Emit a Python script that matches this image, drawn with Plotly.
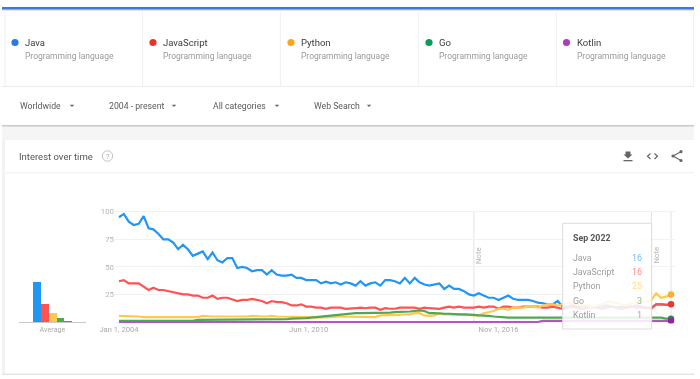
import plotly.graph_objects as go
import pandas as pd

W, H = 700, 379
# ---- data -------------------------------------------------------------
months = [d.strftime("%Y-%m-%d") for d in pd.date_range("2004-01-01", "2022-09-01", freq="2MS")]

java = [95,98,91,88,89,96,85,84,80,75,75,72,66,70,66,60,62,64,57,63,56,54,58,58,49,
        50,49,46,47,47,43,47,43,42,42,43,40,40,38,38,38,35,36.5,35,36,34,36,35,33,37,
        33,35,36,33,38,38,37,35,40,35,40,36,34,33,34,35,30,33,30,30,28,25,24,26,24,
        22,22,20,22,24,21,20,20,20,19,17.5,17,16,16,19,14,14,15,14,15,14,13,14,14,15,
        14,13,14,15,14,15,14,13,13,16,16,15.5,16]
javascript = [37,38,35,35,35,32,29,31,29,29,28,27,26,25,25,24,24,22,22,24,21,22,22,20.5,19,
              20,20,21,20,19,17,19,18,18,17,15,15,16,14,14,13,13,12,13,13,13,12,12,12.5,13,
              12.5,13,13,11,12.5,12,12,13,13,12.5,13,12,13,12.5,12,12,13,14,13,14,13,13,13,
              14,13,14,14,12,14,14,13,13,14,14,14,14,13,13,14,13,12,13,14,13,12,13,14,13,12,
              13,14,13,12,13,14,13,13,13,12,16,16,15.5,16]
python = [5.5,5.5,5.5,5.5,5,4.5,4.5,5,5,5,5,5,5,5,5,4.5,4.5,5.5,5,5,5,5,5,5,5,
          4.7,5,5.5,5,5,5,5.5,5,5,5,4.7,4.7,4.7,4.5,4.5,4,4,4.5,4.5,5,5,5,5,5,5,
          5,4.5,4.5,6,6,6,6.5,6.5,7,7,8,8,6,5.5,6,8,7,7,7,7,7,6.5,6,6,8,9,10,
          12,12,11,13,13,13,14,14,13,15,16,16,15,16,17,17,16,15,15,14,15,16,18,
          18,17,16,15,17,18,19,18,20,26,22,23,25]
go_lang = [1,1,1,1,1,1,1,1,1,1,1,1,1,1,1,1,2,2,2,2,2,2,2,2,2,
           2,2,2,2,2,2,2,2,2,2.5,3,3,3.5,3.5,4,4.5,5,5,5.5,6,7,7.5,8,8,8,
           8,8,8,8,8.5,8.5,9,9,9,9.5,10,10.5,10,8,8,7.5,7.5,7.5,7,7,7,7,6.5,6,6,
           5.5,5,4.5,4,4,4,4,4,4,4,4,4,4,4,4,4,4,4,4,4,4,4,4,4,4,
           4,4,4,4,4,4,4,4,4,4,4,3,3]
kotlin = [0]*86 + [1]*27
latest = [16, 16, 25, 3, 1]
avg_names = ["Java", "JavaScript", "Python", "Go", "Kotlin"]
avg_values = [36.6, 16.3, 8.4, 3.4, 0.3]
series = [("Java", java), ("JavaScript", javascript), ("Python", python), ("Go", go_lang), ("Kotlin", kotlin)]
line_colors = ["#2196f3", "#ff5252", "#ffc94f", "#4fa853", "#b455c4"]
dot_colors = ["#2979ea", "#e5352b", "#fba61f", "#0b9d58", "#a93fb8"]
soft_colors = ["#74bcf7", "#ff8a8a", "#ffdc8e", "#86c488", "#c78fd2"]
subtitle = "Programming language"
filters = ["Worldwide", "2004 - present", "All categories", "Web Search"]
x_ticks = ["2004-01-01", "2010-06-01", "2016-11-01"]
x_labels = ["Jan 1, 2004", "Jun 1, 2010", "Nov 1, 2016"]
notes = ["2016-01-01", "2022-01-01"]
FONT = "Roboto"

# ---- layout helpers (pixels -> paper) ----------------------------------
fx = lambda x: x / W
fy = lambda y: 1 - y / H
shapes, annos = [], []
def rect(x0, y0, x1, y1, fill, line=None, layer="below", opacity=1):
    shapes.append(dict(type="rect", xref="paper", yref="paper", x0=fx(x0), x1=fx(x1), y0=fy(y0), y1=fy(y1),
                       fillcolor=fill, line=dict(color=line or fill, width=1 if line else 0), layer=layer, opacity=opacity))
def circle(cx, cy, r, fill, line=None, lw=0):
    shapes.append(dict(type="circle", xref="paper", yref="paper", x0=fx(cx-r), x1=fx(cx+r), y0=fy(cy+r), y1=fy(cy-r),
                       fillcolor=fill, line=dict(color=line or fill, width=lw), layer="above"))
def poly(pts, fill=None, stroke=None, lw=1.5, close=False):
    d = "M" + " L".join(f"{fx(x):.5f},{fy(y):.5f}" for x, y in pts) + (" Z" if close else "")
    shapes.append(dict(type="path", xref="paper", yref="paper", path=d, fillcolor=fill or "rgba(0,0,0,0)",
                       line=dict(color=stroke or "rgba(0,0,0,0)", width=lw if stroke else 0), layer="above"))
def text(x, y, s, size=9, color="#555", anchor="left", **kw):
    shift = {"left": -1.2, "right": 1.2, "center": 0}[anchor]
    annos.append(dict(xref="paper", yref="paper", x=fx(x + shift), y=fy(y), text=s, showarrow=False, xanchor=anchor, yanchor="middle",
                      font=dict(family=FONT, size=size, color=color), borderpad=0, **kw))

# page furniture
rect(2, 126, 694, 140, "#f5f5f5")
rect(2, 140, 5, 374, "#f2f2f2")
rect(2, 373.5, 694, 375, "#e6e6e6")
rect(2, 172, 694, 173.5, "#f3f3f3")
rect(2, 125, 694, 126.5, "#c9c9c9")
rect(2, 86, 694, 87, "#ececec")
rect(2, 9.5, 694, 10.5, "#c8c8c8")
rect(2, 7, 694, 9.5, "#3b78e7")
for xd in [5, 142.7, 280.3, 418.3, 556.3, 693.7]:
    rect(xd-.4, 10, xd+.4, 86, "#ececec")

for i, (name, _) in enumerate(series):
    cx = [15, 153, 291, 429, 566.5][i]
    circle(cx, 42.5, 3.6, dot_colors[i])
    text(cx+10.5, 42, name, size=9.5, color="#3c3c3c")
    text(cx+10.5, 56, subtitle, size=8.5, color="#9a9a9a")

for label, lx, ax in zip(filters, [20, 109, 213, 314], [72, 174, 277, 369]):
    text(lx, 105.5, label, size=8.7, color="#5a5a5a")
    poly([(ax-2.3, 104.7), (ax+2.3, 104.7), (ax, 107)], fill="#666", close=True)

text(19, 156, "Interest over time", size=9.5, color="#555")
circle(107.5, 156, 5.2, "#ffffff", "#c4c4c4", 1)
text(107.5, 156, "?", size=7.5, color="#aaa", anchor="center")

# icons
poly([(625.5, 151.5), (630.5, 151.5), (630.5, 154.5), (632.5, 154.5), (628, 158.5), (623.5, 154.5), (625.5, 154.5)], fill="#666", close=True)
rect(623.5, 160, 632.5, 161.3, "#666", layer="above")
poly([(650.5, 153.5), (647.5, 156.2), (650.5, 159)], stroke="#666", lw=1.2)
poly([(654.5, 153.5), (657.5, 156.2), (654.5, 159)], stroke="#666", lw=1.2)
poly([(681, 151.7), (673, 156), (681, 160.5)], stroke="#666", lw=1.2)
for cx, cy in [(681, 151.7), (673, 156), (681, 160.5)]:
    circle(cx, cy, 1.6, "#666")

fig = go.Figure()
for (name, vals), c in zip(series, line_colors):
    fig.add_trace(go.Scatter(x=months, y=vals, mode="lines", name=name, line=dict(color=c, width=2.2), showlegend=False, hoverinfo="skip"))
# end dots
for (name, vals), c, v in zip(series, ["#2196f3", "#e53935", "#fbb02d", "#2e8b3c", "#8e24aa"], latest):
    if name == "Java":
        continue
    fig.add_trace(go.Scatter(x=[months[-1]], y=[v], mode="markers", marker=dict(color=c, size=6.5), showlegend=False, hoverinfo="skip"))
fig.add_trace(go.Bar(x=avg_names, y=avg_values, marker=dict(color=line_colors, line=dict(width=0)), xaxis="x2", yaxis="y2",
                     showlegend=False, hoverinfo="skip"))

# notes and tooltip
for n in notes:
    shapes.append(dict(type="line", xref="x", yref="paper", x0=n, x1=n, y0=fy(322), y1=fy(212), line=dict(color="#e3e3e3", width=1), layer="below"))
    annos.append(dict(xref="x", yref="paper", x=n, y=fy(266), xshift=5, text="Note", textangle=-90, showarrow=False,
                      font=dict(family=FONT, size=8, color="#b5b5b5")))
shapes.append(dict(type="line", xref="x", yref="paper", x0=months[-1], x1=months[-1], y0=fy(322), y1=fy(212), line=dict(color="#e3e3e3", width=1), layer="below"))
rect(562.7, 223.3, 651.7, 329, "rgba(255,255,255,0.86)", "#dcdcdc", layer="above")
text(573, 238, "<b>Sep 2022</b>", size=8.8, color="#555")
for (name, _), yy, c, v in zip(series, [257.5, 272, 286, 300.5, 315], soft_colors, latest):
    text(573, yy, name, size=8.8, color="#9c9c9c")
    text(641.5, yy, str(v), size=9, color=c, anchor="right")

fig.update_layout(
    template="none", showlegend=False,
    width=W, height=H, autosize=False, margin=dict(l=0, r=0, t=0, b=0, pad=0), paper_bgcolor="white", plot_bgcolor="rgba(0,0,0,0)",
    shapes=shapes, annotations=annos, bargap=0, font=dict(family=FONT),
    xaxis=dict(domain=[fx(115), fx(675)], type="date", range=["2003-11-13", "2022-10-20"], tickmode="array", tickvals=x_ticks, automargin=False,
               ticktext=x_labels, showgrid=False, zeroline=False, showline=False, ticks="", tickfont=dict(size=7.6, color="#aaa"), ticklen=0),
    yaxis=dict(domain=[fy(323.5), fy(205)], range=[-1.36, 106.1], tickmode="array", tickvals=[0, 25, 50, 75, 100], automargin=False,
               ticktext=["", "25", "50", "75", "100"], showgrid=True, gridcolor="#f2f2f2", gridwidth=1, zeroline=False, showline=False,
               ticks="", tickfont=dict(size=7.8, color="#b5b5b5"), anchor="x"),
    xaxis2=dict(domain=[fx(19), fx(86)], range=[-2.19, 6.19], type="category", categoryorder="array", categoryarray=avg_names, tickmode="array", automargin=False,
                tickvals=["Python"], ticktext=["Average"], showgrid=False, zeroline=False, showline=False, ticks="", anchor="y2",
                tickfont=dict(size=7.2, color="#aaa")),
    yaxis2=dict(domain=[fy(323.5), fy(205)], range=[-1.36, 106.1], showgrid=False, showticklabels=False, zeroline=True, zerolinecolor="#c8c8c8", automargin=False,
                zerolinewidth=1, anchor="x2"),
)
fig.write_html("out.html", config=dict(displayModeBar=False),
               post_script="document.body.style.margin='0';document.documentElement.style.overflow='hidden';document.body.style.filter='blur(0.45px)';")
